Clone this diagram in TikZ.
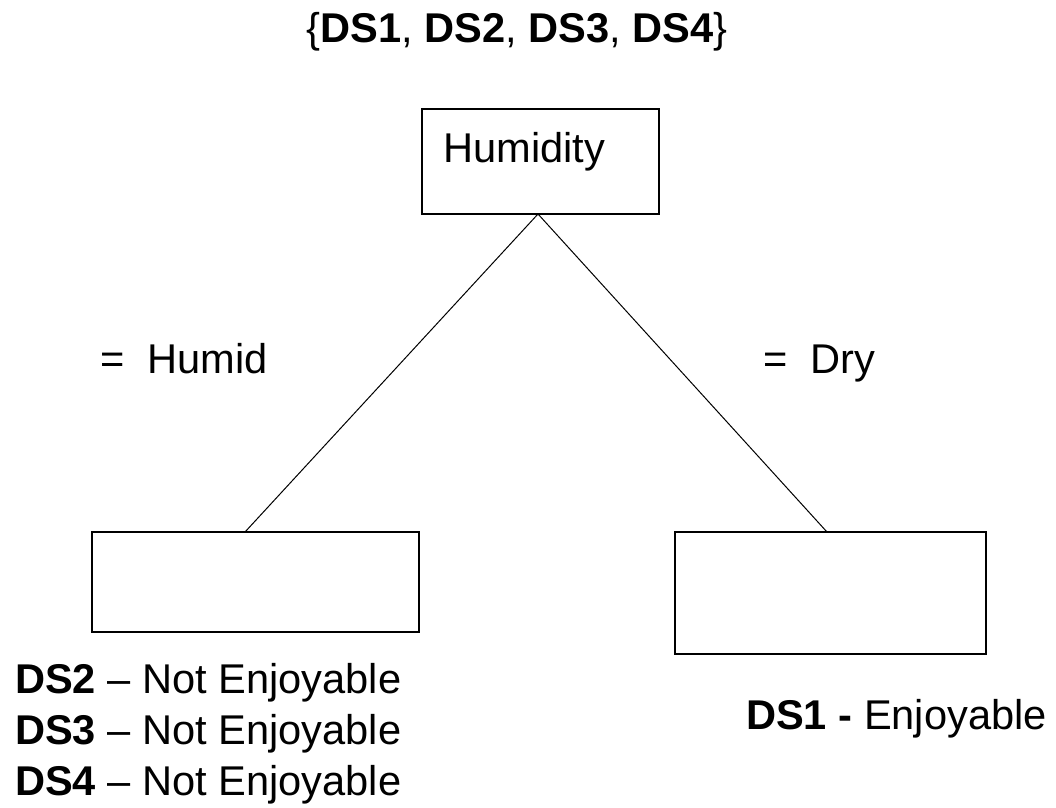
\documentclass[tikz,border=0pt]{standalone}
\usepackage{fontspec}
\setmainfont{Liberation Sans}
\begin{document}
\begin{tikzpicture}[x=1pt,y=-1pt,
  box/.style={draw,line width=1.3pt,inner sep=0pt},
  link/.style={draw,line width=1pt},
  txt/.style={inner sep=0pt,anchor=base west,font=\fontsize{41.6}{48}\selectfont}]
\useasboundingbox (0,0) rectangle (1056,807);
\node[txt,anchor=base] (title) at (517,42) {\{\textbf{DS1}, \textbf{DS2}, \textbf{DS3}, \textbf{DS4}\}};
\node[box,minimum width=237pt,minimum height=105pt] (root) at (540.5,161.5) {};
\node[txt] (rootlbl) at (443,162) {Humidity};
\node[box,minimum width=327pt,minimum height=100pt] (left) at (255.5,582) {};
\node[box,minimum width=311pt,minimum height=122pt] (right) at (830.5,593) {};
\coordinate (apex) at (538,214);
\coordinate (lend) at (245,532);
\coordinate (rend) at (827,532);
\draw[link] (apex) -- (lend);
\draw[link] (apex) -- (rend);
\node[txt] (lh) at (100,373) {=\hspace{0.556em}Humid};
\node[txt] (rh) at (763,373) {=\hspace{0.556em}Dry};
\node[txt] (l1) at (15,693) {\textbf{DS2} – Not Enjoyable};
\node[txt] (l2) at (15,744) {\textbf{DS3} – Not Enjoyable};
\node[txt] (l3) at (15,795) {\textbf{DS4} – Not Enjoyable};
\node[txt] (r1) at (746,729) {\textbf{DS1 -} Enjoyable};
\end{tikzpicture}
\end{document}
